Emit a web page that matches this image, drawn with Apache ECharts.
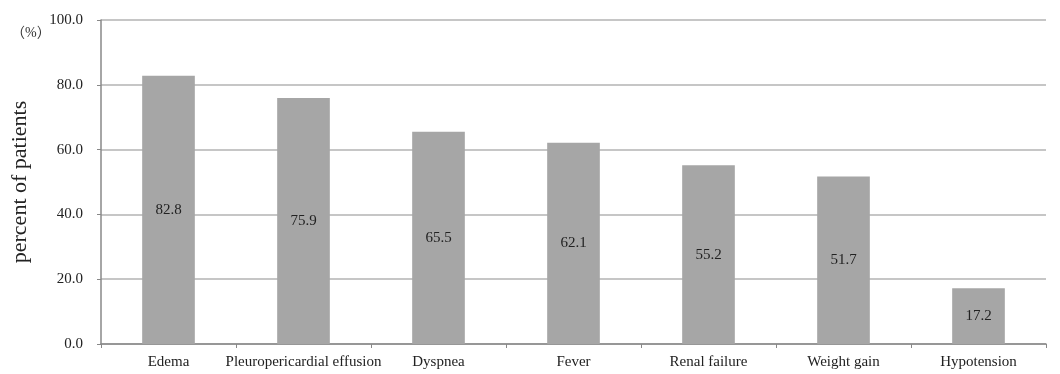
<!DOCTYPE html>
<html>
<head>
<meta charset="utf-8">
<script src="https://cdn.jsdelivr.net/npm/echarts@6/dist/echarts.min.js"></script>
<style>
	html, body { margin: 0; padding: 0; background: #fff; }
	#chart { width: 1060px; height: 374px; }
</style>
</head>
<body>
<div id="chart"></div>
<script>
// 症状分类
var categories = ['Edema', 'Pleuropericardial effusion', 'Dyspnea', 'Fever', 'Renal failure', 'Weight gain', 'Hypotension'];
// 患者百分比
var percentValues = [82.8, 75.9, 65.5, 62.1, 55.2, 51.7, 17.2];
// 纵轴刻度
var yTicks = [0, 20, 40, 60, 80, 100];

var serif = '"Liberation Serif", "DejaVu Serif", serif';
var chart = echarts.init(document.getElementById('chart'));

var option = {
	backgroundColor: '#fff',
	animation: false,
	title: {
		text: '（%）',
		left: 6,
		top: 21,
		textStyle: {
			fontFamily: '"Liberation Serif", "Noto Sans CJK JP", serif',
			fontSize: 14,
			fontWeight: 'normal',
			color: '#333'
		}
	},
	grid: {
		left: 101,
		right: 14,
		top: 20,
		bottom: 30
	},
	xAxis: {
		type: 'category',
		data: categories,
		axisLine: { lineStyle: { color: '#888', width: 1.5 } },
		axisTick: { show: true, alignWithLabel: false, length: 4, lineStyle: { color: '#888' } },
		axisLabel: {
			fontFamily: serif,
			fontSize: 15,
			color: '#222',
			margin: 11,
			interval: 0
		}
	},
	yAxis: {
		type: 'value',
		min: yTicks[0],
		max: yTicks[yTicks.length - 1],
		interval: 20,
		name: 'percent of patients',
		nameLocation: 'middle',
		nameGap: 70,
		nameTextStyle: {
			fontFamily: serif,
			fontSize: 22,
			color: '#222'
		},
		axisLine: { show: true, lineStyle: { color: '#888', width: 1.5 } },
		axisTick: { show: true, length: 4, lineStyle: { color: '#888' } },
		axisLabel: {
			fontFamily: serif,
			fontSize: 15,
			color: '#222',
			margin: 18,
			formatter: function(v) {
				return v.toFixed(1);
			}
		},
		splitLine: { lineStyle: { color: '#b3b3b3', width: 1.5 } }
	},
	series: [{
		type: 'bar',
		data: percentValues,
		barWidth: '39%',
		itemStyle: { color: '#a6a6a6' },
		label: {
			show: true,
			position: 'inside',
			fontFamily: serif,
			fontSize: 15,
			color: '#222',
			formatter: function(p) {
				return p.value.toFixed(1);
			}
		}
	}]
};

chart.setOption(option);
</script>
</body>
</html>
